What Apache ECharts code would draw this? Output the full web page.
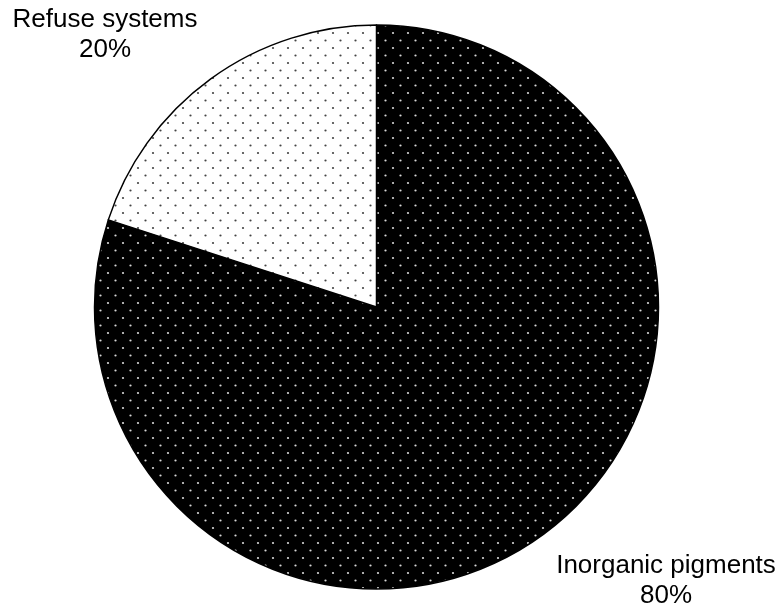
<!DOCTYPE html>
<html>
<head>
<meta charset="utf-8">
<style>
html,body{margin:0;padding:0;background:#fff;}
#chart{width:781px;height:606px;}
</style>
<script src="https://cdn.jsdelivr.net/npm/echarts@6/dist/echarts.min.js"></script>
</head>
<body>
<div id="chart"></div>
<script>
var categories = ['Inorganic pigments', 'Refuse systems'];
var values = [80, 20];

function dotPattern(bg, dot) {
  var c = document.createElement('canvas');
  c.width = 15; c.height = 15;
  var ctx = c.getContext('2d');
  ctx.fillStyle = bg;
  ctx.fillRect(0, 0, 15, 15);
  ctx.fillStyle = dot;
  ctx.beginPath(); ctx.arc(3, 3, 1.1, 0, Math.PI * 2); ctx.fill();
  ctx.beginPath(); ctx.arc(10.5, 10.5, 1.1, 0, Math.PI * 2); ctx.fill();
  return {image: c, repeat: 'repeat'};
}
var patterns = [dotPattern('#000', '#d8d8d8'), dotPattern('#fff', '#444')];
var labelPos = [[666, 581], [105, 35]];

var chart = echarts.init(document.getElementById('chart'), null, {renderer: 'canvas'});
chart.setOption({
  animation: false,
  series: [{
    type: 'pie',
    center: [376.5, 307],
    radius: 282,
    startAngle: 90,
    clockwise: true,
    data: categories.map(function (n, i) {
      return {name: n, value: values[i], itemStyle: {color: patterns[i]}};
    }),
    itemStyle: {borderColor: '#000', borderWidth: 1.5},
    label: {
      show: true,
      position: 'outside',
      formatter: '{b}\n{c}%',
      fontFamily: 'Liberation Sans, Arial, sans-serif',
      fontSize: 26,
      lineHeight: 30,
      color: '#000',
      align: 'center',
      overflow: 'none',
      width: 300
    },
    labelLine: {show: false},
    labelLayout: function (p) {
      var pos = labelPos[p.dataIndex];
      return {x: pos[0], y: pos[1], align: 'center', verticalAlign: 'middle'};
    },
    emphasis: {disabled: true}
  }]
});
</script>
</body>
</html>
